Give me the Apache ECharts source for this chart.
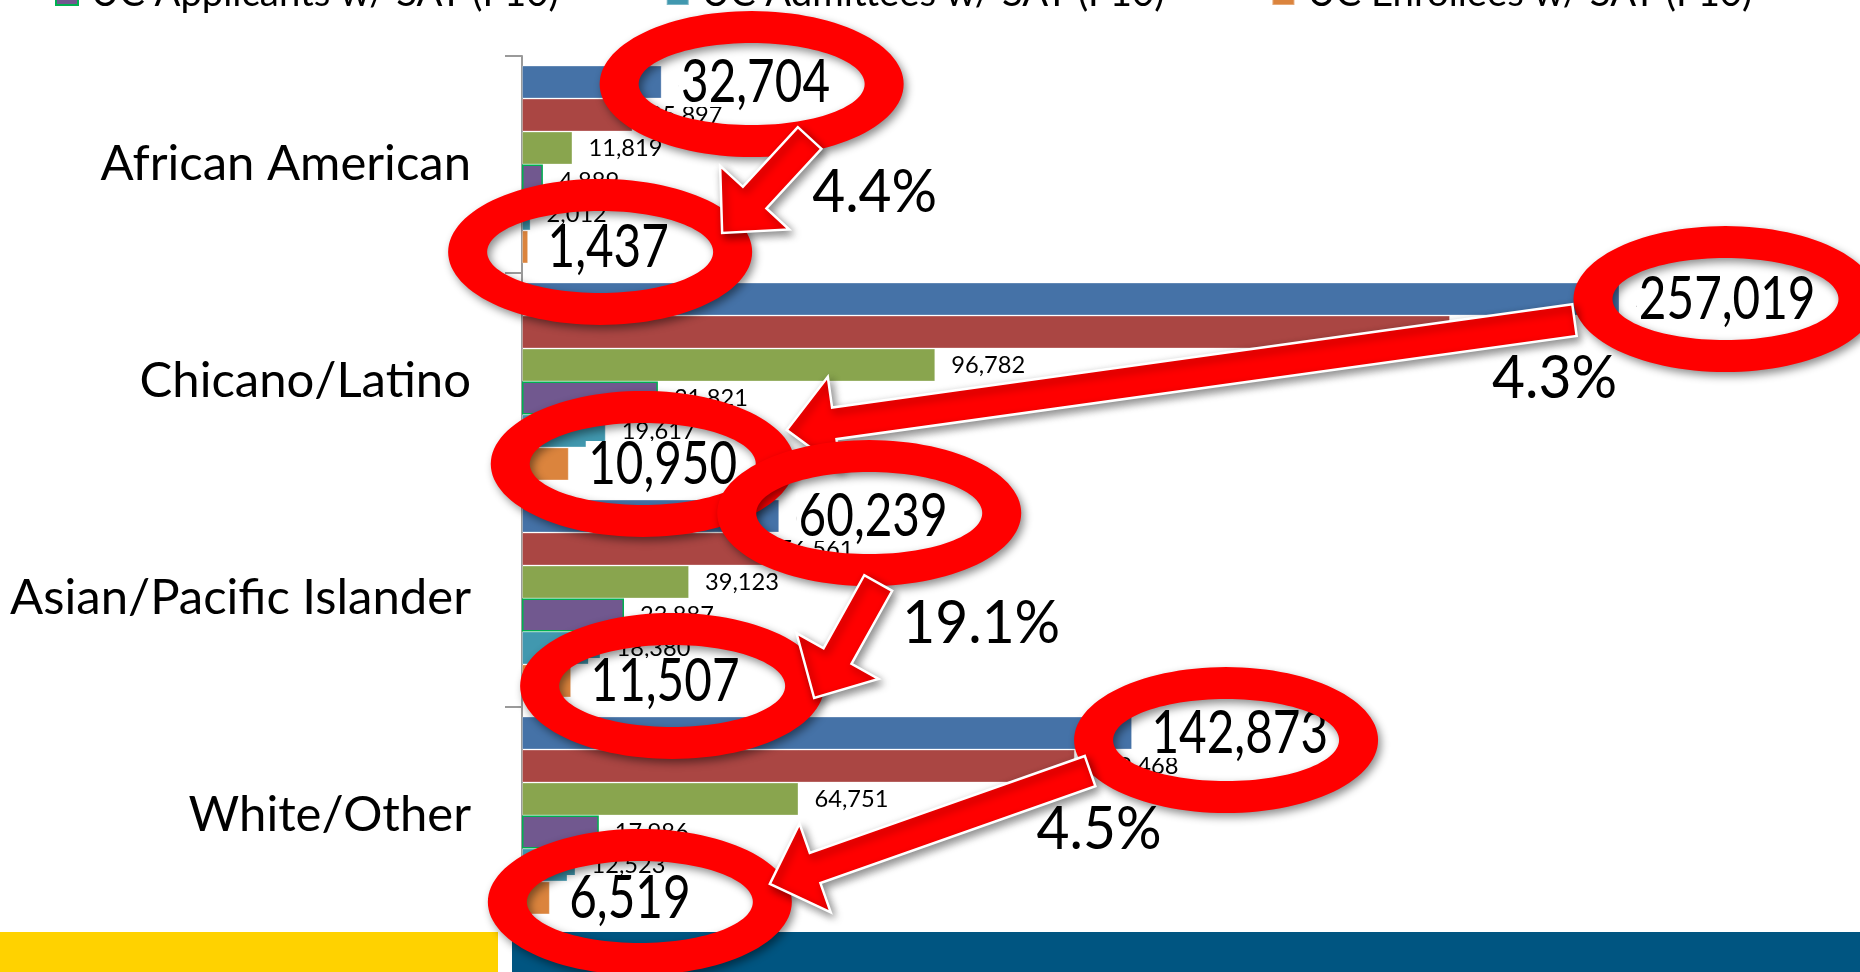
<!DOCTYPE html>
<html>
<head>
<meta charset="utf-8">
<script src="https://cdn.jsdelivr.net/npm/echarts/dist/echarts.min.js"></script>
<style>
html, body { margin: 0; padding: 0; background: #fff; }
#chart { width: 1860px; height: 972px; }
</style>
</head>
<body>
<div id="chart"></div>
<script>
// categories (top to bottom)
var categories = ['African American', 'Chicano/Latino', 'Asian/Pacific Islander', 'White/Other'];

// series, in the order the bars are stacked inside each group
var seriesNames = ['CA Public HS 12th Graders', 'CA Public HS Graduates', 'UC a-g Completers',
                   'UC Applicants w/ SAT (F10)', 'UC Admittees w/ SAT (F10)', 'UC Enrollees w/ SAT (F10)'];
var seniors    = [32704, 257019, 60239, 142873];
var graduates  = [25897, 217330, 56561, 129468];
var agComplete = [11819, 96782, 39123, 64751];
var applicants = [4889, 31821, 23887, 17986];
var admittees  = [2012, 19617, 18380, 12523];
var enrollees  = [1437, 10950, 11507, 6519];

// enrollees as share of the first series, as written on the slide
var pctLabels = ['4.4%', '4.3%', '19.1%', '4.5%'];

var colors = ['#4572A7', '#AA4643', '#89A54E', '#71588F', '#4198AF', '#DB843D'];
var seriesData = [seniors, graduates, agComplete, applicants, admittees, enrollees];

// annotation layout (pixels, relative to the bars / rings)
var ringTopOffset    = [[90, 2], [106, 0], [90, -3], [94, 7]];
var ringBottomOffset = [[72, 5], [74, 0], [101, 5], [90, 4]];
var arrowTailOffset  = [[58, 54], [-151, 21], [9, 70], [-136, 31]];
var arrowTipOffset   = [[122, -19], [144, -34], [142, 12], [130, -18]];
var pctOffset        = [[123, 109], [-171, 80], [112, 111], [-127, 90]];

var chart = echarts.init(document.getElementById('chart'));

var measureCtx = document.createElement('canvas').getContext('2d');
function textWidth(text, size) {
	measureCtx.font = size + 'px Lato';
	return measureCtx.measureText(text).width;
}
function fitSize(text, target) {
	return 40 * target / textWidth(text, 40);
}
function fmt(v) {
	return v.toLocaleString('en-US');
}

var catSize = fitSize('Asian/Pacific Islander', 461);
var smallSize = fitSize('11,819', 74);
var legendSize = fitSize('UC Applicants w/ SAT (F10)', 468);
var bigSize = 60;
var bigScale = 149 / textWidth('32,704', bigSize);
var pctScale = 125 / textWidth('4.4%', bigSize);

chart.setOption({
	animation : false,
	legend : {
		top : -30,
		left : 50,
		itemWidth : 22,
		itemHeight : 22,
		itemGap : 107,
		icon : 'rect',
		data : seriesNames.slice(3),
		textStyle : {
			fontFamily : 'Lato',
			fontSize : legendSize,
			color : '#000',
			padding : [ 0, 0, 0, 8 ]
		}
	},
	grid : {
		left : 522,
		right : 57,
		top : 56,
		bottom : 48
	},
	xAxis : {
		type : 'value',
		min : 0,
		max : 300000,
		show : false
	},
	yAxis : {
		type : 'category',
		data : categories,
		inverse : true,
		axisLine : { show : true, lineStyle : { color : '#9a9a9a', width : 2 } },
		axisTick : { show : true, length : 17, lineStyle : { color : '#9a9a9a', width : 2 } },
		axisLabel : { margin : 51, fontFamily : 'Lato', fontSize : catSize, color : '#000' },
		splitLine : { show : false }
	},
	series : seriesData.map(function(d, k) {
		return {
			name : seriesNames[k],
			type : 'bar',
			data : d,
			barGap : '0%',
			barCategoryGap : '8.8%',
			itemStyle : {
				color : colors[k],
				borderColor : k === 3 ? '#00B050' : 'rgba(255,255,255,0.3)',
				borderWidth : k === 3 ? 1.5 : 1
			},
			label : {
				show : true,
				position : 'right',
				distance : 16,
				fontFamily : 'Lato',
				fontSize : smallSize,
				color : '#000',
				formatter : function(p) { return fmt(p.value); }
			}
		};
	})
});

// ---------------- annotations drawn over the chart ----------------
var model = chart.getModel();
function barGeom(s, i) {
	var l = model.getSeriesByIndex(s).getData().getItemLayout(i);
	return { end : l.x + l.width, cy : l.y + l.height / 2 };
}
function ringPoints(c) {
	var pts = [], n = 120, i, a;
	for (i = 0; i <= n; i++) {
		a = Math.PI + 2 * Math.PI * i / n;
		pts.push([ c[0] + 152 * Math.cos(a), c[1] + 73 * Math.sin(a) ]);
	}
	for (i = n; i >= 0; i--) {
		a = Math.PI + 2 * Math.PI * i / n;
		pts.push([ c[0] + 113 * Math.cos(a), c[1] + 41 * Math.sin(a) ]);
	}
	return pts;
}
function arrowPoints(t, p) {
	var dx = p[0] - t[0], dy = p[1] - t[1], len = Math.sqrt(dx * dx + dy * dy);
	var ux = dx / len, uy = dy / len, nx = -uy, ny = ux;
	var bx = p[0] - ux * 48, by = p[1] - uy * 48, w = 16, h = 47;
	return [ [ t[0] + nx * w, t[1] + ny * w ], [ bx + nx * w, by + ny * w ], [ bx + nx * h, by + ny * h ], p,
			[ bx - nx * h, by - ny * h ], [ bx - nx * w, by - ny * w ], [ t[0] - nx * w, t[1] - ny * w ] ];
}
var shadow = { shadowBlur : 8, shadowOffsetX : 3, shadowOffsetY : 4, shadowColor : 'rgba(0,0,0,0.45)' };
function withShadow(style) {
	return Object.assign({}, shadow, style);
}

var elements = [
	{ type : 'rect', silent : true, z : 5, shape : { x : 0, y : 932, width : 498, height : 40 }, style : { fill : '#FFD200' } },
	{ type : 'rect', silent : true, z : 5, shape : { x : 512, y : 932, width : 1348, height : 40 }, style : { fill : '#005581' } }
];

categories.forEach(function(name, g) {
	var top = barGeom(0, g), bot = barGeom(5, g);
	var c1 = [ top.end + ringTopOffset[g][0], top.cy + ringTopOffset[g][1] ];
	var c2 = [ bot.end + ringBottomOffset[g][0], bot.cy + ringBottomOffset[g][1] ];
	var z = 10 + 3 * g;
	// big value labels sit under the rings so the ring covers the box edges
	[ [ top, seriesData[0][g] ], [ bot, seriesData[5][g] ] ].forEach(function(b) {
		elements.push({
			type : 'text', silent : true, z : z,
			x : b[0].end + 17, y : b[0].cy + 1, scaleX : bigScale,
			style : { text : fmt(b[1]), fontSize : bigSize, fontFamily : 'Lato', fill : '#000', align : 'left', verticalAlign : 'middle',
				backgroundColor : '#fff', padding : [ 0, 3 ], lineHeight : 48 }
		});
	});
	[ c1, c2 ].forEach(function(c) {
		elements.push({ type : 'polygon', silent : true, z : z + 1, shape : { points : ringPoints(c) }, style : withShadow({ fill : '#FF0000' }) });
	});
	var tail = [ c1[0] + arrowTailOffset[g][0], c1[1] + arrowTailOffset[g][1] ];
	var tip = [ c2[0] + arrowTipOffset[g][0], c2[1] + arrowTipOffset[g][1] ];
	elements.push({ type : 'polygon', silent : true, z : z + 2, shape : { points : arrowPoints(tail, tip) },
		style : withShadow({ fill : '#FF0000', stroke : '#fff', lineWidth : 2.5 }) });
	elements.push({
		type : 'text', silent : true, z : z + 2,
		x : c1[0] + pctOffset[g][0], y : c1[1] + pctOffset[g][1], scaleX : pctScale,
		style : { text : pctLabels[g], fontSize : bigSize, fontFamily : 'Lato', fill : '#000', align : 'center', verticalAlign : 'middle' }
	});
});

chart.setOption({ graphic : { elements : elements } });
</script>
</body>
</html>
